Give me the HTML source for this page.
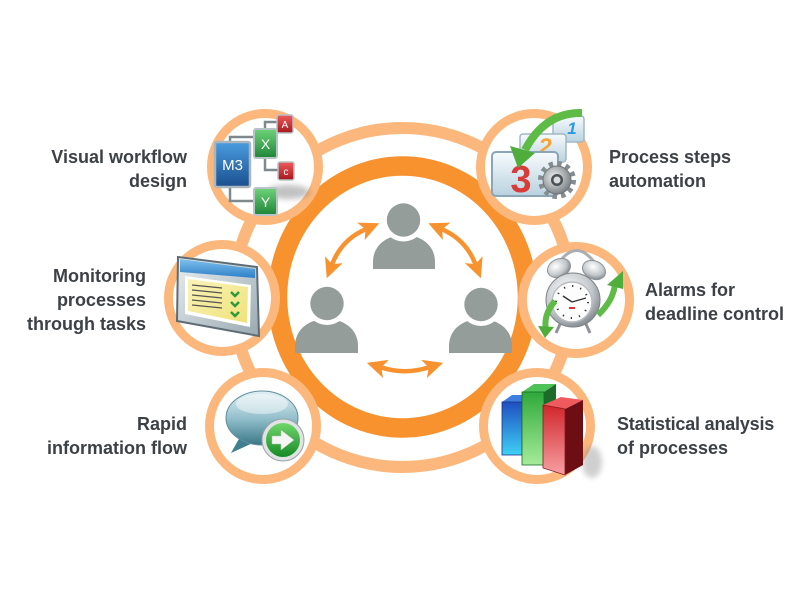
<!DOCTYPE html>
<html>
<head>
<meta charset="utf-8">
<style>
html,body{margin:0;padding:0;background:#fff;}
svg{display:block;}
text{font-family:"Liberation Sans",Arial,sans-serif;font-weight:bold;font-size:18px;fill:#3c4146;}
</style>
</head>
<body>
<svg width="800" height="600" viewBox="0 0 800 600" xmlns="http://www.w3.org/2000/svg">
<defs>
  <linearGradient id="gBlue" x1="0" y1="0" x2="0" y2="1"><stop offset="0" stop-color="#4a9de0"/><stop offset="1" stop-color="#1a4f8e"/></linearGradient>
  <linearGradient id="gGreen" x1="0" y1="0" x2="0" y2="1"><stop offset="0" stop-color="#6fd37a"/><stop offset="1" stop-color="#1d8536"/></linearGradient>
  <linearGradient id="gRed" x1="0" y1="0" x2="0" y2="1"><stop offset="0" stop-color="#ef5a5c"/><stop offset="1" stop-color="#a5171d"/></linearGradient>
  <linearGradient id="gCard" x1="0" y1="0" x2="0" y2="1"><stop offset="0" stop-color="#f7fbfd"/><stop offset="1" stop-color="#b9d2df"/></linearGradient>
  <radialGradient id="gGear" cx="0.4" cy="0.4" r="0.7"><stop offset="0" stop-color="#eef0f1"/><stop offset="1" stop-color="#6d7478"/></radialGradient>
  <radialGradient id="gSilver" cx="0.4" cy="0.35" r="0.75"><stop offset="0" stop-color="#ffffff"/><stop offset="0.6" stop-color="#c3c8cc"/><stop offset="1" stop-color="#6f767b"/></radialGradient>
  <linearGradient id="gBubble" x1="0" y1="0" x2="0" y2="1"><stop offset="0" stop-color="#e2f1f5"/><stop offset="0.5" stop-color="#94c0cc"/><stop offset="1" stop-color="#3a7788"/></linearGradient>
  <linearGradient id="gGreenBtn" x1="0" y1="0" x2="0" y2="1"><stop offset="0" stop-color="#6fd66a"/><stop offset="1" stop-color="#168a26"/></linearGradient>
  <linearGradient id="gYellow" x1="0" y1="0" x2="1" y2="1"><stop offset="0" stop-color="#faf3b8"/><stop offset="1" stop-color="#efe27a"/></linearGradient>
  <linearGradient id="gFrame" x1="0" y1="0" x2="1" y2="1"><stop offset="0" stop-color="#e9eff2"/><stop offset="1" stop-color="#9aa9b1"/></linearGradient>
  <linearGradient id="gTitle" x1="0" y1="0" x2="0" y2="1"><stop offset="0" stop-color="#7ec0ec"/><stop offset="1" stop-color="#2e7fc8"/></linearGradient>
  <linearGradient id="gBarB" x1="0" y1="0" x2="0" y2="1"><stop offset="0" stop-color="#1f4fc0"/><stop offset="1" stop-color="#3fd0f5"/></linearGradient>
  <linearGradient id="gBarG" x1="0" y1="0" x2="0" y2="1"><stop offset="0" stop-color="#2fa83a"/><stop offset="1" stop-color="#a6ec9a"/></linearGradient>
  <linearGradient id="gBarR" x1="0" y1="0" x2="0" y2="1"><stop offset="0" stop-color="#d0262a"/><stop offset="1" stop-color="#f7a0a5"/></linearGradient>
  <filter id="blur" x="-50%" y="-50%" width="200%" height="200%"><feGaussianBlur stdDeviation="3"/></filter>
  <marker id="ah" markerUnits="userSpaceOnUse" markerWidth="20" markerHeight="20" refX="5" refY="9.5" orient="auto-start-reverse">
    <path d="M0,0 L20,9.5 L0,19 L5,9.5 Z" fill="#f7922e"/>
  </marker>
</defs>

<!-- outer light ring -->
<circle cx="402.5" cy="297.5" r="169.5" fill="none" stroke="#fcb77c" stroke-width="12"/>
<!-- big orange ring -->
<ellipse cx="402.5" cy="297" rx="125" ry="131" fill="#fff" stroke="#f7922e" stroke-width="19.5"/>

<!-- small circles -->
<g fill="#fff" stroke="#fcb77c" stroke-width="9">
  <circle cx="265" cy="167" r="53.5"/>
  <circle cx="534" cy="167" r="53.5"/>
  <circle cx="222" cy="298" r="53.5"/>
  <circle cx="576" cy="300" r="53.5"/>
  <circle cx="263" cy="426" r="53.5"/>
  <circle cx="537" cy="426" r="53.5"/>
</g>

<!-- TL icon: workflow -->
<g>
  <ellipse cx="288" cy="192" rx="22" ry="7" fill="#777" opacity="0.45" filter="url(#blur)"/>
  <path d="M230,142 V137 H254 M230,187 V201 H254 M265,129 V122 H277 M265,158 V170 H278" stroke="#7d898c" stroke-width="2.5" fill="none"/>
  <rect x="215" y="142" width="35" height="45" rx="2" fill="url(#gBlue)" stroke="#a9b6bd" stroke-width="2.5"/>
  <text x="232.5" y="170" text-anchor="middle" style="fill:#fff;font-size:15px;font-weight:normal">M3</text>
  <rect x="254" y="129" width="23" height="29" rx="2" fill="url(#gGreen)" stroke="#b7c3c6" stroke-width="2"/>
  <text x="265.5" y="149" text-anchor="middle" style="fill:#fff;font-size:14px;font-weight:normal">X</text>
  <rect x="277" y="115" width="16" height="18" rx="2" fill="url(#gRed)" stroke="#b7c3c6" stroke-width="1.5"/>
  <text x="285" y="128" text-anchor="middle" style="fill:#fff;font-size:10px;font-weight:normal">A</text>
  <rect x="278" y="162" width="16" height="18" rx="2" fill="url(#gRed)" stroke="#b7c3c6" stroke-width="1.5"/>
  <text x="286" y="175" text-anchor="middle" style="fill:#fff;font-size:10px;font-weight:normal">c</text>
  <rect x="254" y="188" width="23" height="27" rx="2" fill="url(#gGreen)" stroke="#b7c3c6" stroke-width="2"/>
  <text x="265.5" y="207" text-anchor="middle" style="fill:#fff;font-size:14px;font-weight:normal">Y</text>
</g>

<!-- TR icon: process steps -->
<g>
  <rect x="553" y="116" width="31" height="26" rx="3" fill="url(#gCard)" stroke="#9fb8c7" stroke-width="1.5"/>
  <text x="572" y="134" text-anchor="middle" style="fill:#2a9be0;font-size:17px;font-style:italic">1</text>
  <rect x="520" y="134" width="46" height="28" rx="3" fill="url(#gCard)" stroke="#9fb8c7" stroke-width="1.5"/>
  <text x="545" y="155" text-anchor="middle" style="fill:#f5a53a;font-size:24px;font-style:italic">2</text>
  <rect x="492" y="152" width="66" height="44" rx="4" fill="url(#gCard)" stroke="#8aa5b5" stroke-width="2"/>
  <text x="521" y="192" text-anchor="middle" style="fill:#d93a3a;font-size:38px">3</text>
  <circle cx="557" cy="180" r="16" fill="none" stroke="#858d91" stroke-width="6" stroke-dasharray="4.2 4.2"/>
  <circle cx="557" cy="180" r="14" fill="url(#gGear)" stroke="#6f777b" stroke-width="1"/>
  <circle cx="557" cy="180" r="6" fill="#4a5054"/>
  <circle cx="557" cy="180" r="3.5" fill="#d8dcde"/>
  <path d="M582,113 Q545,112 525,150" fill="none" stroke="#5dbb46" stroke-width="8"/>
  <polygon points="510,146 535,153 518,168" fill="#4fae3b"/>
</g>

<!-- ML icon: window -->
<g>
  <polygon points="178,257 257,267 259,336 177,321" fill="url(#gFrame)" stroke="#5e6d75" stroke-width="2"/>
  <polygon points="180,259 255,269 255,278 180,272" fill="url(#gTitle)"/>
  <polygon points="185,276 251,285 250,327 185,314" fill="#fff"/>
  <polygon points="188,279 248,287 247,323 188,311" fill="url(#gYellow)"/>
  <g stroke="#555" stroke-width="1.3">
    <line x1="192" y1="285" x2="222" y2="288"/>
    <line x1="192" y1="290" x2="222" y2="293"/>
    <line x1="192" y1="295" x2="222" y2="298"/>
    <line x1="192" y1="300" x2="222" y2="303"/>
    <line x1="192" y1="305" x2="222" y2="308"/>
  </g>
  <g fill="none" stroke="#2e9a3a" stroke-width="2.5">
    <polyline points="231,292 235,296 239,292"/>
    <polyline points="231,302 235,306 239,302"/>
    <polyline points="231,312 235,316 239,312"/>
  </g>
</g>

<!-- MR icon: alarm clock -->
<g>
  <path d="M558,264 Q577,236 597,266" fill="none" stroke="#a9aeb2" stroke-width="3"/>
  <ellipse cx="559" cy="268" rx="12" ry="9" fill="url(#gSilver)" stroke="#8d9398" transform="rotate(-25 559 268)"/>
  <ellipse cx="594" cy="270" rx="12" ry="9" fill="url(#gSilver)" stroke="#8d9398" transform="rotate(25 594 270)"/>
  <line x1="561" y1="322" x2="556" y2="333" stroke="#8d9398" stroke-width="3"/>
  <line x1="585" y1="322" x2="590" y2="333" stroke="#8d9398" stroke-width="3"/>
  <circle cx="573" cy="300" r="27" fill="url(#gSilver)" stroke="#7d8388" stroke-width="1"/>
  <circle cx="572" cy="302" r="20" fill="#fdfdfd" stroke="#b9bec2" stroke-width="1.5"/>
  <circle cx="572" cy="302" r="16" fill="none" stroke="#333" stroke-width="2" stroke-dasharray="1.2 7.18"/>
  <line x1="572" y1="302" x2="563" y2="296" stroke="#333" stroke-width="1.5"/>
  <line x1="572" y1="302" x2="586" y2="298" stroke="#333" stroke-width="1.2"/>
  <rect x="569" y="307" width="6" height="2" fill="#d33"/>
  <path d="M555,301 Q543,315 546,330" fill="none" stroke="#5dbb46" stroke-width="6"/>
  <polygon points="538,326 554,327 545,338" fill="#4fae3b"/>
  <path d="M598,315 Q614,300 615,283" fill="none" stroke="#5dbb46" stroke-width="6"/>
  <polygon points="607,285 623,271 623,289" fill="#4fae3b"/>
</g>

<!-- BL icon: speech bubble -->
<g>
  <polygon points="240,437 231,453 255,442" fill="#3f7f90"/>
  <ellipse cx="262" cy="418" rx="36" ry="27" fill="url(#gBubble)" stroke="#5f8e9b" stroke-width="1"/>
  <ellipse cx="262" cy="404" rx="26" ry="10" fill="#fff" opacity="0.45"/>
  <circle cx="283" cy="440" r="21" fill="#dfe3e4" stroke="#9aa3a6" stroke-width="1"/>
  <circle cx="283" cy="440" r="17" fill="url(#gGreenBtn)"/>
  <polygon points="272,436 281,436 281,430 294,440 281,450 281,444 272,444" fill="#f4f6f4" stroke="#bbb" stroke-width="0.5"/>
</g>

<!-- BR icon: bar chart -->
<g>
  <ellipse cx="592" cy="462" rx="10" ry="16" fill="#888" opacity="0.4" filter="url(#blur)"/>
  <polygon points="502,402 522,402 532,395 512,395" fill="#3f7ee0"/>
  <rect x="502" y="402" width="20" height="53" fill="url(#gBarB)" stroke="#18348a" stroke-width="0.8"/>
  <polygon points="522,392 544,392 556,384 534,384" fill="#4cc257"/>
  <polygon points="544,392 556,384 556,455 544,463" fill="#1d6a2a"/>
  <rect x="522" y="392" width="22" height="73" fill="url(#gBarG)" stroke="#1a6a27" stroke-width="0.8"/>
  <polygon points="543,405 565,409 583,400 561,397" fill="#ef5a5e"/>
  <polygon points="565,409 583,400 583,465 565,475" fill="#6d0d14"/>
  <polygon points="543,405 565,409 565,475 543,468" fill="url(#gBarR)" stroke="#8a1a1e" stroke-width="0.8"/>
</g>

<!-- people -->
<g fill="#949d99">
  <path d="M373,269 L373,262 C373,246 386,235 404,235 C422,235 435,246 435,262 L435,269 Z"/>
  <path d="M295,353 L295,346 C295,330 308,319 326.5,319 C345,319 358,330 358,346 L358,353 Z"/>
  <path d="M449,353 L449,346 C449,330 462,319 480.5,319 C499,319 512,330 512,346 L512,353 Z"/>
</g>
<g fill="#fff">
  <circle cx="403.5" cy="220" r="21.5"/>
  <circle cx="327" cy="303.5" r="21.5"/>
  <circle cx="481" cy="304.5" r="21.5"/>
</g>
<g fill="#949d99">
  <circle cx="403.5" cy="220" r="16.7"/>
  <circle cx="327" cy="303.5" r="16.7"/>
  <circle cx="481" cy="304.5" r="16.7"/>
</g>

<!-- arrows -->
<g fill="none" stroke="#f7922e" stroke-width="4.5" marker-start="url(#ah)" marker-end="url(#ah)">
  <path d="M365.5,229.3 Q341.5,239.8 332.1,264.3"/>
  <path d="M442.1,229.3 Q466.1,239.8 475.5,264.3"/>
  <path d="M381.2,367.4 Q405,375 428.8,367.4"/>
</g>

<!-- labels -->
<text x="187" y="163" text-anchor="end">Visual workflow</text>
<text x="187" y="187" text-anchor="end">design</text>
<text x="146" y="282" text-anchor="end">Monitoring</text>
<text x="146" y="306" text-anchor="end">processes</text>
<text x="146" y="330" text-anchor="end">through tasks</text>
<text x="187" y="430" text-anchor="end">Rapid</text>
<text x="187" y="454" text-anchor="end">information flow</text>
<text x="609" y="163">Process steps</text>
<text x="609" y="187">automation</text>
<text x="645" y="296">Alarms for</text>
<text x="645" y="320">deadline control</text>
<text x="617" y="430" style="letter-spacing:-0.2px">Statistical analysis</text>
<text x="617" y="454">of processes</text>
</svg>
</body>
</html>
